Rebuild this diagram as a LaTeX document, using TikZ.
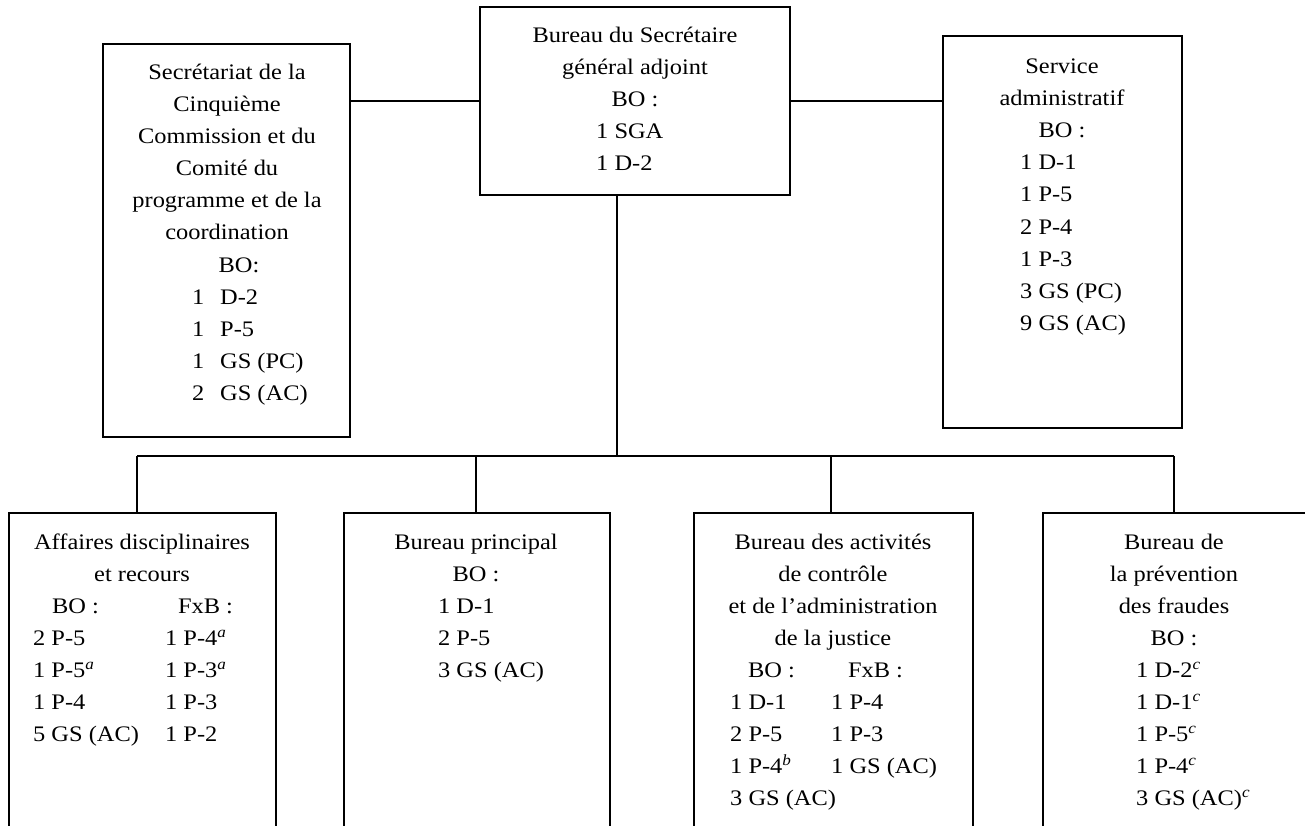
\documentclass[tikz,border=0pt]{standalone}
\usepackage{fontspec}
\setmainfont{Liberation Serif}[FakeStretch=1.1]
\newcommand\fnmark[1]{\textsuperscript{\itshape #1}}
\tikzset{
  orgbox/.style={draw, line width=1.6pt, inner sep=0pt},
  link/.style={line width=1.6pt},
  txt/.style={inner sep=0pt, font=\fontsize{22.2}{32}\selectfont},
}
% a column of text lines: name prefix, anchor, x, first baseline y, lines
\newcommand\linescol[5]{%
  \foreach \t [count=\k] in {#5}
    \node[txt, anchor=#2] (#1\k) at ({#3},{#4+32*(\k-1)}) {\t};}

\begin{document}
\begin{tikzpicture}[x=1pt,y=-1pt]
\useasboundingbox (0,0) rectangle (1305,826);
\begin{scope}
\clip (0,0) rectangle (1305,826);

% upper row
\node[orgbox, minimum width=247pt, minimum height=393pt] (secr) at (226.5,240.5) {};
\node[orgbox, minimum width=310pt, minimum height=188pt] (sga)  at (635,101) {};
\node[orgbox, minimum width=239pt, minimum height=392pt] (adm)  at (1062.5,232) {};

% lower row (open at the foot of the page)
\node[orgbox, minimum width=267pt, minimum height=330pt] (disc) at (142.5,678) {};
\node[orgbox, minimum width=266pt, minimum height=330pt] (prn)  at (477,678) {};
\node[orgbox, minimum width=279pt, minimum height=330pt] (ctl)  at (833.5,678) {};
\node[orgbox, minimum width=266pt, minimum height=330pt] (frd)  at (1176,678) {};

% connectors
\draw[link] (sga.west) -- (sga.west -| secr.east);
\draw[link] (sga.east) -- (sga.east -| adm.west);
\coordinate (hub) at (617,456);
\coordinate (j1) at (137,456);
\coordinate (j2) at (476,456);
\coordinate (j3) at (831,456);
\coordinate (j4) at (1174,456);
\draw[link] (hub |- sga.south) -- (hub);
\draw[link] (j1) -- (j4);
\draw[link] (j1) -- (j1 |- disc.north);
\draw[link] (j2) -- (j2 |- prn.north);
\draw[link] (j3) -- (j3 |- ctl.north);
\draw[link] (j4) -- (j4 |- frd.north);

% Bureau du Secrétaire général adjoint
\linescol{sgat}{base}{635}{43}{Bureau du Secrétaire,général adjoint,BO :}
\linescol{sgai}{base west}{596}{139}{1 SGA,1 D-2}

% Secrétariat
\linescol{secrt}{base}{227}{80}{Secrétariat de la,Cinquième,Commission et du,Comité du,programme et de la,coordination}
\node[txt, anchor=base] (secrbo) at (239,272) {BO:};
\linescol{secrn}{base west}{192}{304}{1,1,1,2}
\linescol{secrl}{base west}{220}{304}{D-2,P-5,GS (PC),GS (AC)}

% Service administratif
\linescol{admt}{base}{1062}{74}{Service,administratif,BO :}
\linescol{admi}{base west}{1020}{170}{1 D-1,1 P-5,2 P-4,1 P-3,3 GS (PC),9 GS (AC)}

% Affaires disciplinaires et recours
\linescol{disct}{base}{142}{549}{Affaires disciplinaires,et recours}
\node[txt, anchor=base] (discbo) at (75.5,613) {BO :};
\node[txt, anchor=base] (discfx) at (205.5,613) {FxB :};
\linescol{disca}{base west}{33}{645}{2 P-5,1 P-5\fnmark{a},1 P-4,5 GS (AC)}
\linescol{discb}{base west}{165}{645}{1 P-4\fnmark{a},1 P-3\fnmark{a},1 P-3,1 P-2}

% Bureau principal
\linescol{prnt}{base}{476}{549}{Bureau principal,BO :}
\linescol{prni}{base west}{438}{613}{1 D-1,2 P-5,3 GS (AC)}

% Bureau des activités de contrôle
\linescol{ctlt}{base}{833}{549}{Bureau des activités,de contrôle,et de l’administration,de la justice}
\node[txt, anchor=base] (ctlbo) at (771.5,677) {BO :};
\node[txt, anchor=base] (ctlfx) at (875.5,677) {FxB :};
\linescol{ctla}{base west}{730}{709}{1 D-1,2 P-5,1 P-4\fnmark{b},3 GS (AC)}
\linescol{ctlb}{base west}{831}{709}{1 P-4,1 P-3,1 GS (AC)}

% Bureau de la prévention des fraudes
\linescol{frdt}{base}{1174}{549}{Bureau de,la prévention,des fraudes,BO :}
\linescol{frdi}{base west}{1136}{677}{1 D-2\fnmark{c},1 D-1\fnmark{c},1 P-5\fnmark{c},1 P-4\fnmark{c},3 GS (AC)\fnmark{c}}
\end{scope}
\end{tikzpicture}
\end{document}
